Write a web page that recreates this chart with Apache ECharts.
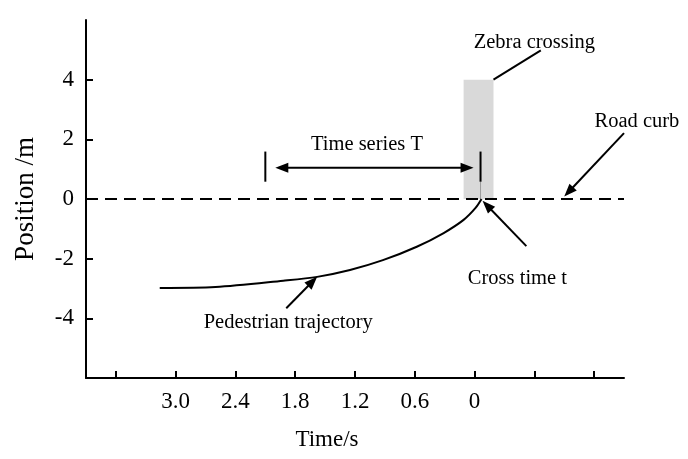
<!DOCTYPE html>
<html><head><meta charset="utf-8">
<script src="https://cdn.jsdelivr.net/npm/echarts@6/dist/echarts.min.js"></script>
<style>html,body{margin:0;padding:0;background:#fff}#c{width:688px;height:459px}</style>
</head><body><div id="c"></div>
<script>
// x value = -time (s); labels show |x|
const timeTicks = [-3.6, -3.0, -2.4, -1.8, -1.2, -0.6, 0, 0.6, 1.2];
const timeLabels = [-3.0, -2.4, -1.8, -1.2, -0.6, 0];
const posTicks = [-4, -2, 0, 2, 4];
// pedestrian trajectory
const trajX = [-3.16, -2.60, -1.92, -1.58, -1.25, -0.92, -0.58, -0.31, -0.11, 0.01, 0.07];
const trajY = [-2.98, -2.95, -2.74, -2.61, -2.38, -2.05, -1.60, -1.14, -0.70, -0.30, 0];
// road curb
const curbY = 0;
// zebra crossing region
const zebraX = [-0.11, 0.19];
const zebraY = [0, 4];
// time series T window
const seriesStartX = -2.10, crossX = 0.06;
const barY = [0.58, 1.59];
const arrowTY = 1.05;
// annotations: text and leader/arrow lines (data coordinates)
const annTexts = [
  {text: 'Zebra crossing', at: [0.60, 5.23]},
  {text: 'Road curb', at: [1.63, 2.60]},
  {text: 'Time series T', at: [-1.08, 1.82]},
  {text: 'Cross time t', at: [0.43, -2.66]},
  {text: 'Pedestrian trajectory', at: [-1.87, -4.13]}
];
const annLines = [
  {from: [0.19, 4.0], to: [0.665, 4.98], head: false},
  {from: [1.50, 2.21], to: [0.90, 0.08], head: true},
  {from: [0.52, -1.58], to: [0.08, -0.06], head: true},
  {from: [-1.89, -3.66], to: [-1.58, -2.61], head: true}
];

const FONT = '"Liberation Serif", "Times New Roman", serif';
const chart = echarts.init(document.getElementById('c'), null, {renderer: 'canvas'});

chart.setOption({
  animation: false,
  backgroundColor: '#fff',
  grid: {left: 86, right: 64, top: 20, bottom: 81, containLabel: false},
  xAxis: {
    type: 'value', min: -3.9, max: 1.5,
    name: 'Time/s', nameLocation: 'middle', nameGap: 50,
    nameTextStyle: {fontFamily: FONT, fontSize: 23, color: '#000', padding: [0, 56, 0, 0]},
    axisLine: {show: true, onZero: false, lineStyle: {color: '#000', width: 2}},
    axisTick: {show: true, inside: true, length: 7, customValues: timeTicks, lineStyle: {color: '#000', width: 2}},
    axisLabel: {customValues: timeLabels, margin: 12, fontFamily: FONT, fontSize: 23, color: '#000',
      formatter: v => (Math.abs(v) < 1e-9 ? '0' : Math.abs(v).toFixed(1))},
    splitLine: {show: false}
  },
  yAxis: {
    type: 'value', min: -6, max: 6, interval: 2,
    name: 'Position /m', nameLocation: 'middle', nameGap: 47, nameRotate: 90,
    nameTextStyle: {fontFamily: FONT, fontSize: 27, color: '#000'},
    axisLine: {show: true, onZero: false, lineStyle: {color: '#000', width: 2}},
    axisTick: {show: true, inside: true, length: 7, customValues: posTicks, lineStyle: {color: '#000', width: 2}},
    axisLabel: {customValues: posTicks, margin: 12, fontFamily: FONT, fontSize: 23, color: '#000'},
    splitLine: {show: false}
  },
  series: [
    {
      type: 'line', data: [], silent: true,
      markArea: {silent: true, itemStyle: {color: '#d9d9d9'},
        data: [[{coord: [zebraX[0], zebraY[1]]}, {coord: [zebraX[1], zebraY[0]]}]]},
      markLine: {silent: true, symbol: 'none', label: {show: false},
        lineStyle: {color: '#000', width: 2, type: [12, 7]},
        data: [{yAxis: curbY}]}
    },
    {
      type: 'line', data: [[crossX, 0], [crossX, barY[0]]], showSymbol: false, silent: true,
      lineStyle: {color: '#9a9a9a', width: 1}
    },
    {
      type: 'line', smooth: 0.3, showSymbol: false, silent: true,
      data: trajX.map((x, i) => [x, trajY[i]]),
      lineStyle: {color: '#000', width: 2}
    },
    {
      type: 'line', data: [[seriesStartX, barY[0]], [seriesStartX, barY[1]]], showSymbol: false, silent: true,
      lineStyle: {color: '#000', width: 2}
    },
    {
      type: 'line', data: [[crossX, barY[0]], [crossX, barY[1]]], showSymbol: false, silent: true,
      lineStyle: {color: '#000', width: 2}
    }
  ]
});

function px(p) { return chart.convertToPixel({gridIndex: 0}, p); }
function arrowHead(tip, tail, len, half) {
  const dx = tip[0] - tail[0], dy = tip[1] - tail[1];
  const L = Math.hypot(dx, dy), ux = dx / L, uy = dy / L;
  const bx = tip[0] - ux * len, by = tip[1] - uy * len;
  return {type: 'polygon', shape: {points: [tip, [bx - uy * half, by + ux * half], [bx + uy * half, by - ux * half]]},
    style: {fill: '#000'}, z: 100};
}
const g = [];
annTexts.forEach(a => {
  const p = px(a.at);
  g.push({type: 'text', x: p[0], y: p[1], z: 100,
    style: {text: a.text, fontFamily: FONT, fontSize: 20.5, fill: '#000', align: 'center', verticalAlign: 'middle'}});
});
annLines.forEach(l => {
  const a = px(l.from), b = px(l.to);
  let end = b;
  if (l.head) {
    const dx = b[0] - a[0], dy = b[1] - a[1], L = Math.hypot(dx, dy);
    end = [b[0] - dx / L * 8, b[1] - dy / L * 8];
  }
  g.push({type: 'line', shape: {x1: a[0], y1: a[1], x2: end[0], y2: end[1]}, style: {stroke: '#000', lineWidth: 2}, z: 100});
  if (l.head) g.push(arrowHead(b, a, 13, 5));
});
// double arrow for time series T
(function () {
  const a = px([seriesStartX + 0.10, arrowTY]), b = px([crossX - 0.07, arrowTY]);
  g.push({type: 'line', shape: {x1: a[0] + 8, y1: a[1], x2: b[0] - 8, y2: b[1]}, style: {stroke: '#000', lineWidth: 2}, z: 100});
  g.push(arrowHead(a, b, 13, 5));
  g.push(arrowHead(b, a, 13, 5));
})();
chart.setOption({graphic: g});
</script>
</body></html>
